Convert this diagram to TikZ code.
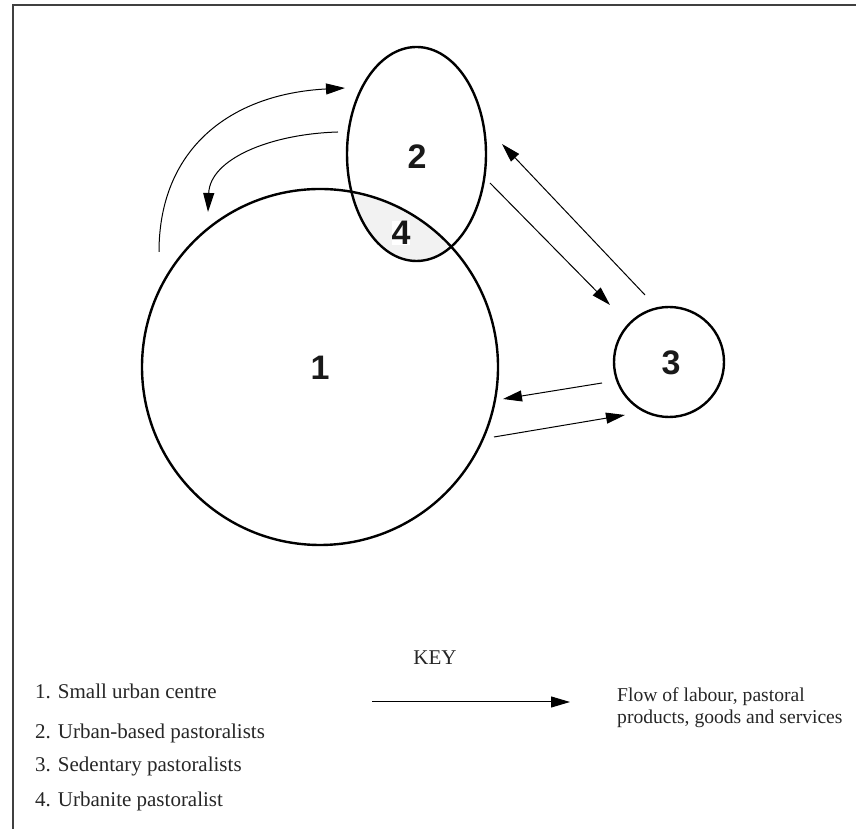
\documentclass[tikz,border=0pt]{standalone}
\usepackage{fontspec}
\setmainfont{Liberation Serif}
\newfontfamily\numfont{Liberation Sans}
\usetikzlibrary{arrows.meta,shapes.geometric}
\begin{document}
\begin{tikzpicture}[x=1pt,y=1pt,
  ring/.style={draw, line width=2.4pt, inner sep=0pt},
  num/.style={font=\numfont\bfseries\fontsize{34}{34}\selectfont, text=black!90, inner sep=1pt},
  flow/.style={line width=1pt, -{Triangle[length=19pt,width=11pt]}},
  keytext/.style={font=\fontsize{21}{24}\selectfont, text=black!85, inner sep=0pt},
  flowtext/.style={font=\fontsize{19.6}{22}\selectfont, text=black!85, inner sep=0pt}]
\useasboundingbox (0,0) rectangle (856,829);
\draw[line width=1.4pt, black!75] (13,0) -- (13,824) -- (856,824);
% overlap region
\begin{scope}
  \clip (416.5,675) ellipse [x radius=69.5pt, y radius=107pt];
  \fill[black!5] (320,462) circle [radius=178pt];
\end{scope}
\node[ring, circle, minimum size=356pt] (c1) at (320,462) {};
\node[ring, ellipse, minimum width=139pt, minimum height=214pt] (c2) at (416.5,675) {};
\node[ring, circle, minimum size=110pt] (c3) at (669,467) {};
\node[num] (l1) at (320,461) {1};
\node[num] (l2) at (417,672) {2};
\node[num] (l3) at (671,466) {3};
\node[num, fill=white, inner sep=0pt] (l4) at (401,596) {4};
% connectors
\coordinate (a1s) at (159,577); \coordinate (a1e) at (345,741);
\coordinate (a2s) at (338,697); \coordinate (a2e) at (208,617);
\coordinate (a3s) at (490,646); \coordinate (a3e) at (610,524);
\coordinate (a4s) at (645,534); \coordinate (a4e) at (502,685);
\coordinate (a5s) at (602,446); \coordinate (a5e) at (503,430);
\coordinate (a6s) at (494,392); \coordinate (a6e) at (625,414);
\draw[flow] (a1s) .. controls (159,680) and (230,735) .. (a1e);
\draw[flow] (a2s) .. controls (270,695) and (210,670) .. (a2e);
\draw[flow] (a3s) -- (a3e);
\draw[flow] (a4s) -- (a4e);
\draw[flow] (a5s) -- (a5e);
\draw[flow] (a6s) -- (a6e);
% key
\node[keytext, anchor=base] (key) at (435,164) {KEY};
\node[keytext, anchor=base west] (t1) at (35,130) {1. Small urban centre};
\node[keytext, anchor=base west] (t2) at (35,90) {2. Urban-based pastoralists};
\node[keytext, anchor=base west] (t3) at (35,57) {3. Sedentary pastoralists};
\node[keytext, anchor=base west] (t4) at (35,22) {4. Urbanite pastoralist};
\coordinate (k1) at (372,127); \coordinate (k2) at (570,127);
\draw[flow] (k1) -- (k2);
\node[flowtext, anchor=base west] (f1) at (617,127) {Flow of labour, pastoral};
\node[flowtext, anchor=base west] (f2) at (617,105) {products, goods and services};
\end{tikzpicture}
\end{document}
